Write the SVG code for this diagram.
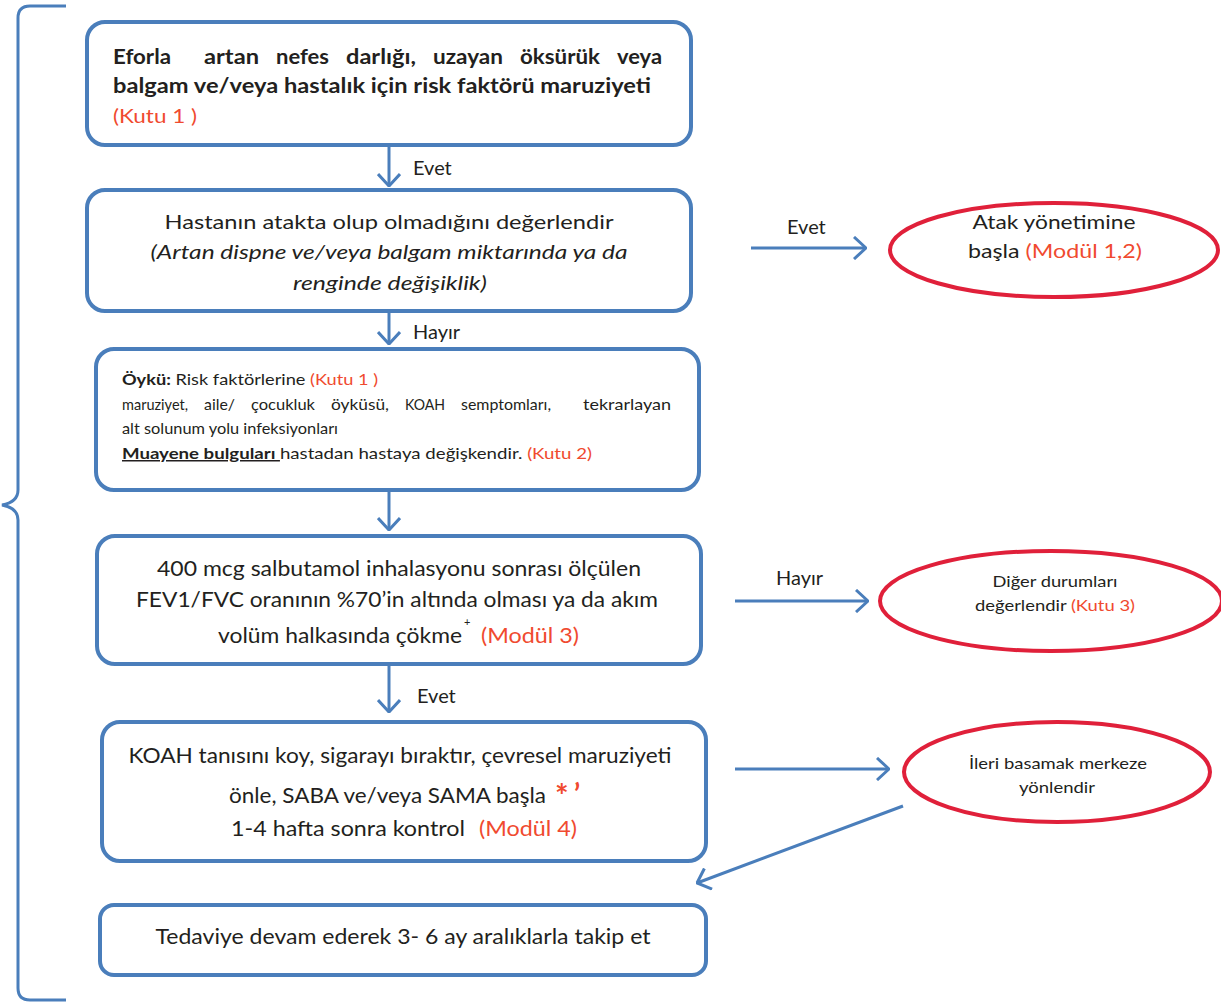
<svg xmlns="http://www.w3.org/2000/svg" width="1221" height="1007" viewBox="0 0 1221 1007">
<defs>
<style>
.box{fill:#fff;stroke:#4a7ebb;stroke-width:4}
.ell{fill:#fff;stroke:#e0203a;stroke-width:4}
.con{fill:none;stroke:#4a7ebb;stroke-width:3}
text{font-family:Lato,"Open Sans","Noto Sans",sans-serif;fill:#231f20}
.r{fill:#f04a2f}
.b{font-weight:bold}
.i{font-style:italic}
.c{text-anchor:middle}
.w1{font-size:20px;font-weight:bold}
.w3{font-size:15px}
</style>
<marker id="ah" viewBox="0 0 14 24" refX="13" refY="12" markerWidth="14" markerHeight="24" markerUnits="userSpaceOnUse" orient="auto">
<path d="M1,1 L13,12 L1,23" fill="none" stroke="#4a7ebb" stroke-width="3"/>
</marker>
</defs>
<rect width="1221" height="1007" fill="#fff"/>

<g id="brace">
<path class="con" d="M66,6 L30,6 Q18,6 18,18 L18,490 Q18,502 2,505 Q18,508 18,520 L18,988 Q18,1000 30,1000 L66,1000"/>
</g>

<g id="connectors">
<line class="con" x1="389" y1="147" x2="389" y2="186" marker-end="url(#ah)"/>
<text x="413" y="175" font-size="20">Evet</text>
<line class="con" x1="751" y1="248" x2="866" y2="248" marker-end="url(#ah)"/>
<text x="787" y="234" font-size="20">Evet</text>
<line class="con" x1="389" y1="313" x2="389" y2="344" marker-end="url(#ah)"/>
<text x="413" y="339" font-size="20">Hayır</text>
<line class="con" x1="389" y1="492" x2="389" y2="530" marker-end="url(#ah)"/>
<line class="con" x1="735" y1="601" x2="868" y2="601" marker-end="url(#ah)"/>
<text x="776" y="585" font-size="20">Hayır</text>
<line class="con" x1="389" y1="666" x2="389" y2="712" marker-end="url(#ah)"/>
<text x="417" y="703" font-size="20">Evet</text>
<line class="con" x1="735" y1="769" x2="889" y2="769" marker-end="url(#ah)"/>
<line class="con" x1="903" y1="806" x2="697" y2="883" marker-end="url(#ah)"/>
</g>

<g id="box1">
<rect class="box" x="87" y="22" width="604" height="123" rx="18"/>
<text class="w1" x="113" y="64" textLength="58" lengthAdjust="spacingAndGlyphs">Eforla</text>
<text class="w1" x="204" y="64" textLength="55" lengthAdjust="spacingAndGlyphs">artan</text>
<text class="w1" x="276" y="64" textLength="53" lengthAdjust="spacingAndGlyphs">nefes</text>
<text class="w1" x="346" y="64" textLength="70" lengthAdjust="spacingAndGlyphs">darlığı,</text>
<text class="w1" x="433" y="64" textLength="70" lengthAdjust="spacingAndGlyphs">uzayan</text>
<text class="w1" x="520" y="64" textLength="80" lengthAdjust="spacingAndGlyphs">öksürük</text>
<text class="w1" x="617" y="64" textLength="45" lengthAdjust="spacingAndGlyphs">veya</text>
<text class="b" x="113" y="93" font-size="20" textLength="538" lengthAdjust="spacingAndGlyphs">balgam ve/veya hastalık için risk faktörü maruziyeti</text>
<text class="r" x="113" y="123" font-size="20" textLength="84" lengthAdjust="spacingAndGlyphs">(Kutu 1 )</text>
</g>

<g id="box2">
<rect class="box" x="87" y="190" width="604" height="121" rx="18"/>
<text class="c" x="389" y="229" font-size="20" textLength="449" lengthAdjust="spacingAndGlyphs">Hastanın  atakta olup olmadığını  değerlendir</text>
<text class="c i" x="389" y="259" font-size="20" textLength="477" lengthAdjust="spacingAndGlyphs">(Artan dispne ve/veya balgam miktarında ya da</text>
<text class="c i" x="390" y="290" font-size="20" textLength="194" lengthAdjust="spacingAndGlyphs">renginde değişiklik)</text>
</g>

<g id="ellipse1">
<ellipse class="ell" cx="1054" cy="250" rx="164" ry="47"/>
<text class="c" x="1054" y="229" font-size="20" textLength="163" lengthAdjust="spacingAndGlyphs">Atak yönetimine</text>
<text class="c" x="1055" y="258" font-size="20" textLength="174" lengthAdjust="spacingAndGlyphs">başla <tspan class="r">(Modül 1,2)</tspan></text>
</g>

<g id="box3">
<rect class="box" x="96" y="349" width="603" height="141" rx="18"/>
<text x="122" y="385" font-size="15" textLength="256" lengthAdjust="spacingAndGlyphs"><tspan class="b">Öykü:</tspan> Risk faktörlerine <tspan class="r">(Kutu 1 )</tspan></text>
<text class="w3" x="122" y="410" textLength="66" lengthAdjust="spacingAndGlyphs">maruziyet,</text>
<text class="w3" x="204" y="410" textLength="31" lengthAdjust="spacingAndGlyphs">aile/</text>
<text class="w3" x="251" y="410" textLength="64" lengthAdjust="spacingAndGlyphs">çocukluk</text>
<text class="w3" x="331" y="410" textLength="58" lengthAdjust="spacingAndGlyphs">öyküsü,</text>
<text class="w3" x="405" y="410" textLength="40" lengthAdjust="spacingAndGlyphs">KOAH</text>
<text class="w3" x="461" y="410" textLength="90" lengthAdjust="spacingAndGlyphs">semptomları,</text>
<text class="w3" x="583" y="410" textLength="88" lengthAdjust="spacingAndGlyphs">tekrarlayan</text>
<text x="122" y="434" font-size="15" textLength="216" lengthAdjust="spacingAndGlyphs">alt solunum yolu infeksiyonları</text>
<text x="122" y="459" font-size="15" textLength="470" lengthAdjust="spacingAndGlyphs"><tspan class="b" text-decoration="underline">Muayene bulguları </tspan>hastadan hastaya değişkendir. <tspan class="r">(Kutu 2)</tspan></text>
</g>

<g id="box4">
<rect class="box" x="97" y="536" width="604" height="128" rx="18"/>
<text class="c" x="399" y="576" font-size="21" textLength="484" lengthAdjust="spacingAndGlyphs">400 mcg salbutamol inhalasyonu sonrası ölçülen</text>
<text class="c" x="397" y="607" font-size="21" textLength="522" lengthAdjust="spacingAndGlyphs">FEV1/FVC oranının %70’in altında olması ya da akım</text>
<text x="218" y="643" font-size="21" textLength="244" lengthAdjust="spacingAndGlyphs">volüm halkasında çökme</text>
<text x="464" y="626" font-size="11">+</text>
<text class="r" x="481" y="643" font-size="21" textLength="98" lengthAdjust="spacingAndGlyphs">(Modül 3)</text>
</g>

<g id="ellipse2">
<ellipse class="ell" cx="1051" cy="601" rx="171" ry="50"/>
<text class="c" x="1055" y="587" font-size="15" textLength="125" lengthAdjust="spacingAndGlyphs">Diğer durumları</text>
<text class="c" x="1055" y="611" font-size="15" textLength="160" lengthAdjust="spacingAndGlyphs">değerlendir <tspan class="r">(Kutu 3)</tspan></text>
</g>

<g id="box5">
<rect class="box" x="102" y="722" width="604" height="139" rx="18"/>
<text class="c" x="400" y="763" font-size="21" textLength="543" lengthAdjust="spacingAndGlyphs">KOAH tanısını koy, sigarayı bıraktır, çevresel maruziyeti</text>
<text x="229" y="803" font-size="21" textLength="317" lengthAdjust="spacingAndGlyphs">önle, SABA ve/veya SAMA başla</text>
<text class="r" x="555" y="808" font-size="32" font-weight="bold">*</text>
<text class="r" x="574" y="804" font-size="28" font-weight="bold">’</text>
<text x="231" y="836" font-size="21" textLength="234" lengthAdjust="spacingAndGlyphs">1-4  hafta sonra kontrol</text>
<text class="r" x="479" y="836" font-size="21" textLength="98" lengthAdjust="spacingAndGlyphs">(Modül 4)</text>
</g>

<g id="ellipse3">
<ellipse class="ell" cx="1057" cy="772" rx="153" ry="50"/>
<text class="c" x="1058" y="769" font-size="15" textLength="178" lengthAdjust="spacingAndGlyphs">İleri basamak merkeze</text>
<text class="c" x="1057" y="793" font-size="15" textLength="76" lengthAdjust="spacingAndGlyphs">yönlendir</text>
</g>

<g id="box6">
<rect class="box" x="100" y="905" width="606" height="70" rx="14"/>
<text class="c" x="403" y="944" font-size="21" textLength="495" lengthAdjust="spacingAndGlyphs">Tedaviye devam ederek 3- 6 ay aralıklarla takip et</text>
</g>
</svg>
